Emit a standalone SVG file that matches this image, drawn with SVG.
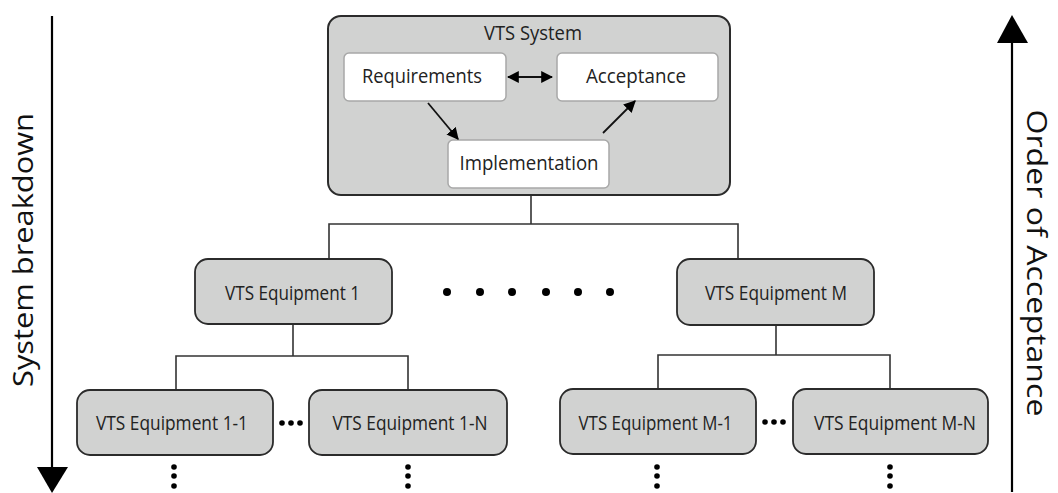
<svg xmlns="http://www.w3.org/2000/svg" width="1058" height="493" viewBox="0 0 1058 493">
<defs>
<style>
.outer{fill:#d1d2d1;stroke:#2b2b2b;stroke-width:2}
.inner{fill:#ffffff;stroke:#a8a8a8;stroke-width:1.5}
.eq{fill:#d1d2d1;stroke:#2b2b2b;stroke-width:1.8}
.lbl{font-family:"Open Sans","Liberation Sans",sans-serif;font-size:20px;fill:#222;text-anchor:middle}
.big{font-family:"Open Sans","Liberation Sans",sans-serif;font-size:28px;fill:#111;text-anchor:middle}
.conn{stroke:#333;stroke-width:1.6;fill:none}
.arr{stroke:#111;stroke-width:1.8;fill:none}
.axis{stroke:#000;stroke-width:2.2;fill:none}
.dot{fill:#000}
</style>
<marker id="ah" viewBox="0 0 10 10" refX="9" refY="5" markerWidth="12" markerHeight="12" markerUnits="userSpaceOnUse" orient="auto-start-reverse">
<path d="M0,0 L10,5 L0,10 Z" fill="#000"/>
</marker>
</defs>

<g id="axis-left">
<line class="axis" x1="52" y1="16" x2="52" y2="470"/>
<polygon points="37,467 68,467 52,493" fill="#000"/>
<text class="big" transform="translate(33,250) rotate(-90)" textLength="274" lengthAdjust="spacingAndGlyphs">System breakdown</text>
</g>
<g id="axis-right">
<line class="axis" x1="1012" y1="40" x2="1012" y2="492"/>
<polygon points="997,43 1028,43 1012,15" fill="#000"/>
<text class="big" transform="translate(1027,263) rotate(90)" textLength="307" lengthAdjust="spacingAndGlyphs">Order of Acceptance</text>
</g>

<g id="connectors">
<polyline class="conn" points="531,195 531,224"/>
<polyline class="conn" points="329,259 329,224 738,224 738,259"/>
<polyline class="conn" points="293,324 293,356"/>
<polyline class="conn" points="176,390 176,356 408,356 408,390"/>
<polyline class="conn" points="776,325 776,355"/>
<polyline class="conn" points="658,389 658,355 890,355 890,389"/>
</g>

<g id="vts-system">
<rect class="outer" x="328" y="16" width="402" height="179" rx="13"/>
<text class="lbl" x="533" y="40" textLength="98" lengthAdjust="spacingAndGlyphs">VTS System</text>
</g>
<g id="requirements">
<rect class="inner" x="344" y="53" width="162" height="48" rx="5"/>
<text class="lbl" x="422" y="83" textLength="120" lengthAdjust="spacingAndGlyphs">Requirements</text>
</g>
<g id="acceptance">
<rect class="inner" x="557" y="53" width="161" height="48" rx="5"/>
<text class="lbl" x="636" y="83" textLength="100" lengthAdjust="spacingAndGlyphs">Acceptance</text>
</g>
<g id="implementation">
<rect class="inner" x="448" y="140" width="161" height="48" rx="5"/>
<text class="lbl" x="529" y="170" textLength="139" lengthAdjust="spacingAndGlyphs">Implementation</text>
</g>
<g id="inner-arrows">
<line class="arr" x1="508" y1="77" x2="552" y2="77" marker-start="url(#ah)" marker-end="url(#ah)"/>
<line class="arr" x1="428" y1="103" x2="458" y2="139" marker-end="url(#ah)"/>
<line class="arr" x1="603" y1="133" x2="635" y2="101" marker-end="url(#ah)"/>
</g>

<g id="eq1">
<rect class="eq" x="195" y="259" width="197" height="65" rx="13"/>
<text class="lbl" x="292.5" y="300" textLength="135" lengthAdjust="spacingAndGlyphs">VTS Equipment 1</text>
</g>
<g id="eqM">
<rect class="eq" x="677" y="259" width="197" height="66" rx="13"/>
<text class="lbl" x="776" y="300" textLength="142" lengthAdjust="spacingAndGlyphs">VTS Equipment M</text>
</g>
<g id="eq1-1">
<rect class="eq" x="77" y="390" width="196" height="65" rx="13"/>
<text class="lbl" x="172" y="430" textLength="152" lengthAdjust="spacingAndGlyphs">VTS Equipment 1-1</text>
</g>
<g id="eq1-N">
<rect class="eq" x="309" y="390" width="198" height="65" rx="13"/>
<text class="lbl" x="410" y="430" textLength="155" lengthAdjust="spacingAndGlyphs">VTS Equipment 1-N</text>
</g>
<g id="eqM-1">
<rect class="eq" x="560" y="389" width="196" height="65" rx="13"/>
<text class="lbl" x="655.5" y="430" textLength="154" lengthAdjust="spacingAndGlyphs">VTS Equipment M-1</text>
</g>
<g id="eqM-N">
<rect class="eq" x="793" y="389" width="195" height="65" rx="13"/>
<text class="lbl" x="895" y="430" textLength="162" lengthAdjust="spacingAndGlyphs">VTS Equipment M-N</text>
</g>

<g id="ellipses">
<circle class="dot" cx="447" cy="292" r="4"/>
<circle class="dot" cx="480" cy="292" r="4"/>
<circle class="dot" cx="512" cy="292" r="4"/>
<circle class="dot" cx="546" cy="292" r="4"/>
<circle class="dot" cx="578" cy="292" r="4"/>
<circle class="dot" cx="610" cy="292" r="4"/>
<circle class="dot" cx="282" cy="423" r="2.8"/>
<circle class="dot" cx="291" cy="423" r="2.8"/>
<circle class="dot" cx="300" cy="423" r="2.8"/>
<circle class="dot" cx="765" cy="422" r="2.8"/>
<circle class="dot" cx="774" cy="422" r="2.8"/>
<circle class="dot" cx="783" cy="422" r="2.8"/>
<circle class="dot" cx="174" cy="467" r="2.8"/>
<circle class="dot" cx="174" cy="476" r="2.8"/>
<circle class="dot" cx="174" cy="486" r="2.8"/>
<circle class="dot" cx="408" cy="467" r="2.8"/>
<circle class="dot" cx="408" cy="476" r="2.8"/>
<circle class="dot" cx="408" cy="486" r="2.8"/>
<circle class="dot" cx="657" cy="467" r="2.8"/>
<circle class="dot" cx="657" cy="476" r="2.8"/>
<circle class="dot" cx="657" cy="486" r="2.8"/>
<circle class="dot" cx="890" cy="467" r="2.8"/>
<circle class="dot" cx="890" cy="476" r="2.8"/>
<circle class="dot" cx="890" cy="486" r="2.8"/>
</g>
</svg>
